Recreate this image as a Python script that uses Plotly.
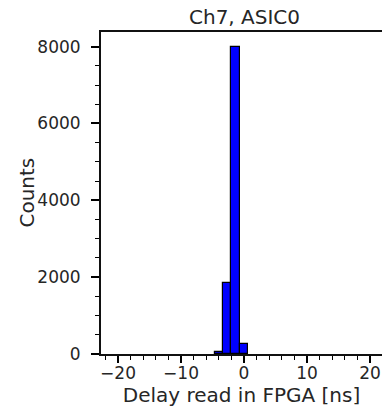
import plotly.graph_objects as go

# Data
bin_centers = [-3.95, -2.65, -1.35, -0.05]
counts = [40, 1840, 7980, 250]
bin_width = 1.31

x_ticks = [-20, -10, 0, 10, 20]
y_ticks = [0, 2000, 4000, 6000, 8000]

title_text = "Ch7, ASIC0"
x_label = "Delay read in FPGA [ns]"
y_label = "Counts"

FONT = "DejaVu Sans"
TXT = "#262626"

fig = go.Figure()
fig.add_trace(go.Bar(
    x=bin_centers, y=counts, width=bin_width,
    marker=dict(color="#0000ff", line=dict(color="#000000", width=1.2)),
    showlegend=False,
))

fig.update_layout(
    width=382, height=409,
    margin=dict(l=101, r=0, t=32, b=55),
    plot_bgcolor="white", paper_bgcolor="white",
    font=dict(family=FONT, color=TXT, size=17),
    bargap=0,
    annotations=[
        dict(
            text=title_text, xref="x", x=0, yref="paper", y=1,
            xanchor="center", yanchor="bottom", yshift=1, showarrow=False,
            font=dict(size=20, family=FONT, color=TXT),
        ),
        dict(
            text=y_label, xref="paper", x=-0.265, yref="paper", y=0.5,
            xanchor="center", yanchor="middle", textangle=-90, showarrow=False,
            font=dict(size=20, family=FONT, color=TXT),
        ),
    ],
)

fig.update_xaxes(
    range=[-22.7, 21.9],
    tickmode="array", tickvals=x_ticks, ticktext=[str(v).replace("-", "\u2212") for v in x_ticks],
    ticks="outside", ticklen=7, tickwidth=1.6, tickcolor="#000",
    minor=dict(ticks="outside", dtick=2, tick0=0, ticklen=4, tickwidth=1.3, tickcolor="#000"),
    showline=True, linecolor="#111", linewidth=2, mirror=True,
    showgrid=False, zeroline=False,
    tickfont=dict(size=17),
    ticklabelstandoff=-4,
    title=dict(text=x_label, font=dict(size=20), standoff=6),
)
fig.update_yaxes(
    range=[0, 8380],
    tickmode="array", tickvals=y_ticks, ticktext=[str(v) for v in y_ticks],
    ticks="outside", ticklen=8, tickwidth=1.6, tickcolor="#000",
    minor=dict(ticks="outside", dtick=500, tick0=0, ticklen=4, tickwidth=1.3, tickcolor="#000"),
    showline=True, linecolor="#111", linewidth=2, mirror=False,
    showgrid=False, zeroline=False,
    tickfont=dict(size=17),
    ticklabelposition="outside",
    ticklabelstandoff=7,
)

fig.write_html("out.html")
